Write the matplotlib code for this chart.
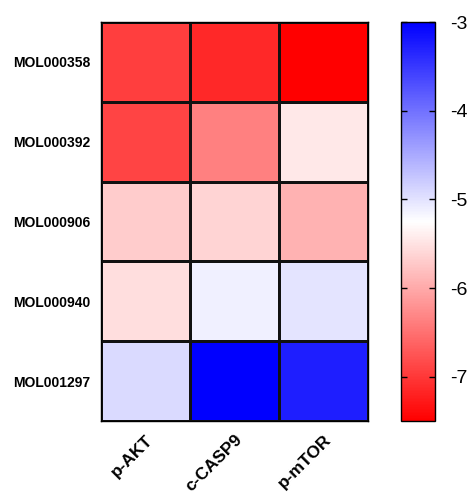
import matplotlib
matplotlib.use("Agg")
import matplotlib.pyplot as plt
import numpy as np
from matplotlib.colors import LinearSegmentedColormap, Normalize

rows = ["MOL000358", "MOL000392", "MOL000906", "MOL000940", "MOL001297"]
cols = ["p-AKT", "c-CASP9", "p-mTOR"]
values = np.array([
    [-6.94, -7.14, -7.50],
    [-6.90, -6.37, -5.45],
    [-5.70, -5.63, -5.93],
    [-5.54, -5.12, -5.02],
    [-4.92, -3.00, -3.27],
])
vmin, vmax = -7.5, -3.0
cbar_ticks = [-3, -4, -5, -6, -7]

plt.rcParams['font.family'] = ['Liberation Sans', 'DejaVu Sans']
plt.rcParams['axes.unicode_minus'] = False

cmap = LinearSegmentedColormap.from_list("rwb", ["#ff0000", "#ffffff", "#0000ff"])
norm = Normalize(vmin=vmin, vmax=vmax)

fig = plt.figure(figsize=(4.69, 4.94), dpi=100)
ax = fig.add_axes([101/469, 1-421/494, 267/469, 399/494])
ax.pcolormesh(np.arange(len(cols)+1), np.arange(len(rows)+1), values,
              cmap=cmap, norm=norm, edgecolors='#111111', linewidth=0.8)
ax.set_xlim(0, len(cols))
ax.set_ylim(len(rows), 0)
ax.set_xticks(np.arange(len(cols)) + 0.5)
ax.set_xticklabels(cols, rotation=45, ha='right', rotation_mode='anchor',
                   fontsize=12.5, fontweight='bold')
ax.set_yticks(np.arange(len(rows)) + 0.5)
ax.set_yticklabels(rows, fontsize=10, fontweight='bold')
ax.tick_params(length=0, pad=8)
ax.tick_params(axis='x', pad=8)
for s in ax.spines.values():
    s.set_linewidth(1.0)

cax = fig.add_axes([401/469, 1-421/494, 34/469, 399/494])
sm = plt.cm.ScalarMappable(cmap=cmap, norm=norm)
cb = fig.colorbar(sm, cax=cax)
cb.set_ticks(cbar_ticks)
cb.ax.tick_params(direction='in', length=4, width=1, labelsize=14, left=True, right=True, pad=11)
cb.outline.set_linewidth(1.0)

fig.savefig("out.png", dpi=100)
